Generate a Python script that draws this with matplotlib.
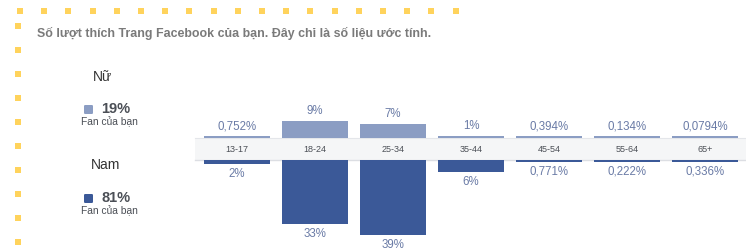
import matplotlib.pyplot as plt
from matplotlib.patches import Rectangle, FancyBboxPatch
import numpy as np

plt.rcParams['font.family'] = ['Liberation Sans', 'DejaVu Sans']

# data
age_groups = ['13-17', '18-24', '25-34', '35-44', '45-54', '55-64', '65+']
female = [0.752, 9, 7, 1, 0.394, 0.134, 0.0794]
male = [2, 33, 39, 6, 0.771, 0.222, 0.336]
female_labels = ['0,752%', '9%', '7%', '1%', '0,394%', '0,134%', '0,0794%']
male_labels = ['2%', '33%', '39%', '6%', '0,771%', '0,222%', '0,336%']
female_total = '19%'
male_total = '81%'
title = 'Số lượt thích Trang Facebook của bạn. Đây chỉ là số liệu ước tính.'

W, H, dpi = 746, 251, 100
c_female = '#8b9dc3'
c_male = '#3b5998'
c_label = '#6a7ba6'

fig = plt.figure(figsize=(W / dpi, H / dpi), dpi=dpi)
fig.patch.set_facecolor('white')

# overlay axes in pixel coords for decorations / text
ov = fig.add_axes([0, 0, 1, 1])
ov.set_xlim(0, W)
ov.set_ylim(H, 0)
ov.axis('off')

# yellow dotted border
top_x = np.arange(20, 460, 24.2)
ov.scatter(top_x, np.full(len(top_x), 12), marker='s', s=19, color='#ffd35c', lw=0)
left_y = np.arange(27, 250, 24)
ov.scatter(np.full(len(left_y), 18), left_y, marker='s', s=19, color='#ffd35c', lw=0)

ov.text(37, 33, title, fontsize=8.9, fontweight='bold', color='#7a7a7a', va='center', ha='left')

# gender summary
ov.text(103, 77, 'Nữ', fontsize=10, color='#333333', ha='center', va='center')
ov.add_patch(FancyBboxPatch((84, 106), 9, 9, boxstyle='round,pad=0,rounding_size=1.2',
                            color=c_female, lw=0))
ov.text(101, 109, female_total, fontsize=10.5, fontweight='bold', color='#4b4f56', va='center')
ov.text(109, 122, 'Fan của bạn', fontsize=7.4, color='#4b4f56', ha='center', va='center')

ov.text(106, 165, 'Nam', fontsize=10, color='#333333', ha='center', va='center')
ov.add_patch(FancyBboxPatch((84, 195), 9, 9, boxstyle='round,pad=0,rounding_size=1.2',
                            color=c_male, lw=0))
ov.text(101, 198, male_total, fontsize=10.5, fontweight='bold', color='#4b4f56', va='center')
ov.text(109, 211, 'Fan của bạn', fontsize=7.4, color='#4b4f56', ha='center', va='center')

# chart axes: x in category units, y in percent units (px per %)
ppp = 1.93
band_top, band_bot = 139, 161
mid = (band_top + band_bot) / 2
half = (band_bot - band_top) / 2 / ppp
x0, step = 237, 78
ax = fig.add_axes([0, 0, 1, 1])
ax.set_xlim(-x0 / step, (W - x0) / step)
ax.set_ylim(-(H - mid) / ppp, mid / ppp)
ax.axis('off')
ax.patch.set_alpha(0)

# band with category labels
bx0 = (195 - x0) / step
ax.add_patch(Rectangle((bx0, -half), 10, 2 * half, color='#f5f6f7', lw=0, zorder=1))
ax.plot([bx0, 10], [half, half], color='#e4e6ea', lw=0.8, zorder=2)
ax.plot([bx0, 10], [-half, -half], color='#dcdee3', lw=1.0, zorder=2)

x = np.arange(len(age_groups))
floor = 0.8  # minimum visible bar height
fvals = np.maximum(female, floor)
mvals = np.maximum(male, floor)
bw = 66 / step
ax.bar(x, fvals, bottom=half, width=bw, color=c_female, zorder=3)
ax.bar(x, -mvals, bottom=-half, width=bw, color=c_male, zorder=3)

for i, g in enumerate(age_groups):
    ax.text(i, 0, g, fontsize=6.5, color='#4b4f56', ha='center', va='center', zorder=4)
    ax.annotate(female_labels[i], (i, half + fvals[i]), xytext=(0, 11), textcoords='offset pixels',
                ha='center', va='center', fontsize=8.3, color=c_label)
    ax.annotate(male_labels[i], (i, -half - mvals[i]), xytext=(0, -9), textcoords='offset pixels',
                ha='center', va='center', fontsize=8.3, color=c_label)

fig.savefig('out.png', dpi=dpi)
